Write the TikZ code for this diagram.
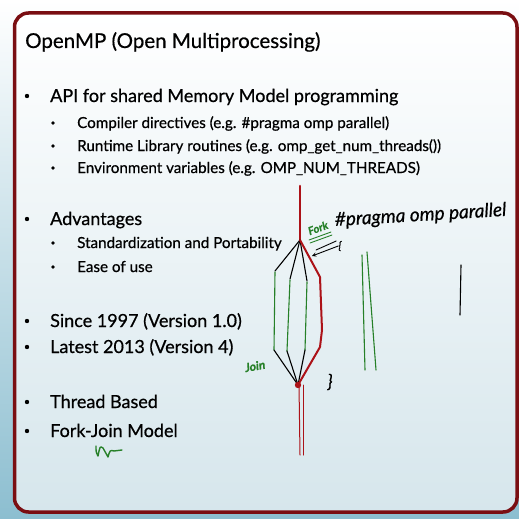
\documentclass[tikz,border=0pt]{standalone}
\usepackage{fontspec}
\setmainfont{Lato}[FakeBold=0.6]
\usetikzlibrary{positioning, shapes, calc, arrows}
\definecolor{framered}{RGB}{122,14,18}
\definecolor{inkred}{RGB}{172,18,24}
\definecolor{inkgreen}{RGB}{38,128,40}
\definecolor{slideblue}{RGB}{140,190,208}
\definecolor{paleblue}{RGB}{214,230,236}

\tikzset{
	title/.style={font=\fontsize{20.5}{24}\selectfont, anchor=base west, inner sep=0},
	item/.style={font=\fontsize{18}{21}\selectfont, anchor=base west, inner sep=0},
	subitem/.style={font=\fontsize{15.2}{18}\selectfont, anchor=base west, inner sep=0},
	pen/.style={line width=1.1pt, line cap=round, line join=round},
	hand/.style={font=\itshape, inner sep=0}
}

\begin{document}
\begin{tikzpicture}[x=1pt, y=-1pt]
\useasboundingbox (0,0) rectangle (519,519);

% slide background and frame
\shade[top color=white, middle color=white, bottom color=slideblue] (0,0) rectangle (519,519);
\shade[rounded corners=14, top color=white, middle color=white, bottom color=paleblue] (14.5,13) rectangle (517,512);
\draw[framered, line width=3.5, rounded corners=14] (14.5,13) rectangle (517,512);

\node[title] (head) at (25,48) {OpenMP (Open Multiprocessing)};

\foreach \y/\txt [count=\i] in {102/{API for shared Memory Model programming}, 225/Advantages, 327/{Since 1997 (Version 1.0)}, 353/{Latest 2013 (Version 4)}, 408/{Thread Based}, 437/{Fork-Join Model}}
{
	\fill (27,\y-6) circle (2.2);
	\node[item] (item\i) at (50,\y) {\txt};
}

\foreach \y/\txt [count=\i] in {128/{Compiler directives (e.g. \#pragma omp parallel)}, 151/{Runtime Library routines (e.g. omp\_get\_num\_threads())}, 173/{Environment variables (e.g. OMP\_NUM\_THREADS)}, 248/{Standardization and Portability}, 272/{Ease of use}}
{
	\fill (53,\y-5) circle (1.8);
	\node[subitem] (sub\i) at (77,\y) {\txt};
}

% fork - join sketch
\coordinate (fork) at (300,240);
\coordinate (join) at (298,385);
\draw[inkred, pen, line width=2.6] (300,186) -- (fork);
\foreach \x/\y/\u/\v in {275/271/274/350, 290/279/287/351, 307/281/305/350}
{
	\draw[pen] (fork) -- (\x,\y);
	\draw[pen, inkgreen] (\x,\y+1) -- (\u,\v);
	\draw[pen] (\u,\v) -- (join);
}
\draw[pen, inkred, line width=2] (fork) -- (320,277) -- (322,330) -- (320,347) -- (join);
\fill[inkred] (join) circle (3.2);
\draw[pen, inkred, line width=1] (299,385) -- (300,455);
\draw[pen, inkred, line width=1] (303,385) -- (303,455);

\node[hand, inkgreen, rotate=20, font=\fontsize{11}{11}\selectfont\itshape\bfseries] (forklbl) at (318,228) {Fork};
\draw[pen, inkgreen, line width=0.9] (309,240) -- (331,232);
\draw[pen, inkgreen, line width=0.9] (310,243) -- (332,235);
\node[hand, font=\fontsize{11}{11}\selectfont\itshape] (obrace) at (340,246) {\{};
\coordinate (hit) at (312,256);
\draw[pen, line width=0.9, ->, >=stealth] (obrace.west) -- (hit);
\draw[pen, line width=0.9] ($(obrace.west)+(-2,-5)$) -- ($(hit)+(4,-6)$);
\node[hand, anchor=base west, rotate=3.4, font=\fontsize{19}{19}\selectfont\itshape] (pragma) at (335,226) {\#pragma omp parallel};

\node[hand, inkgreen, rotate=10, font=\fontsize{12}{12}\selectfont\itshape\bfseries] (joinlbl) at (255,366) {Join};
\node[hand, font=\fontsize{18}{18}\selectfont\itshape] (cbrace) at (330,382) {\}};

% threads drawn on the right
\draw[pen, inkgreen] (362,255) -- (365,370);
\draw[pen, inkgreen] (367,252) -- (376,370);
\draw[pen] (461,265) -- (460,315);

% squiggle under Fork-Join Model
\draw[pen, inkgreen, line width=1.4] (96,446) .. controls (96,452) .. (98,456) .. controls (100,446) .. (103,448) .. controls (105,453) .. (108,457) .. controls (110,450) .. (114,451) -- (122,450);
\end{tikzpicture}
\end{document}
